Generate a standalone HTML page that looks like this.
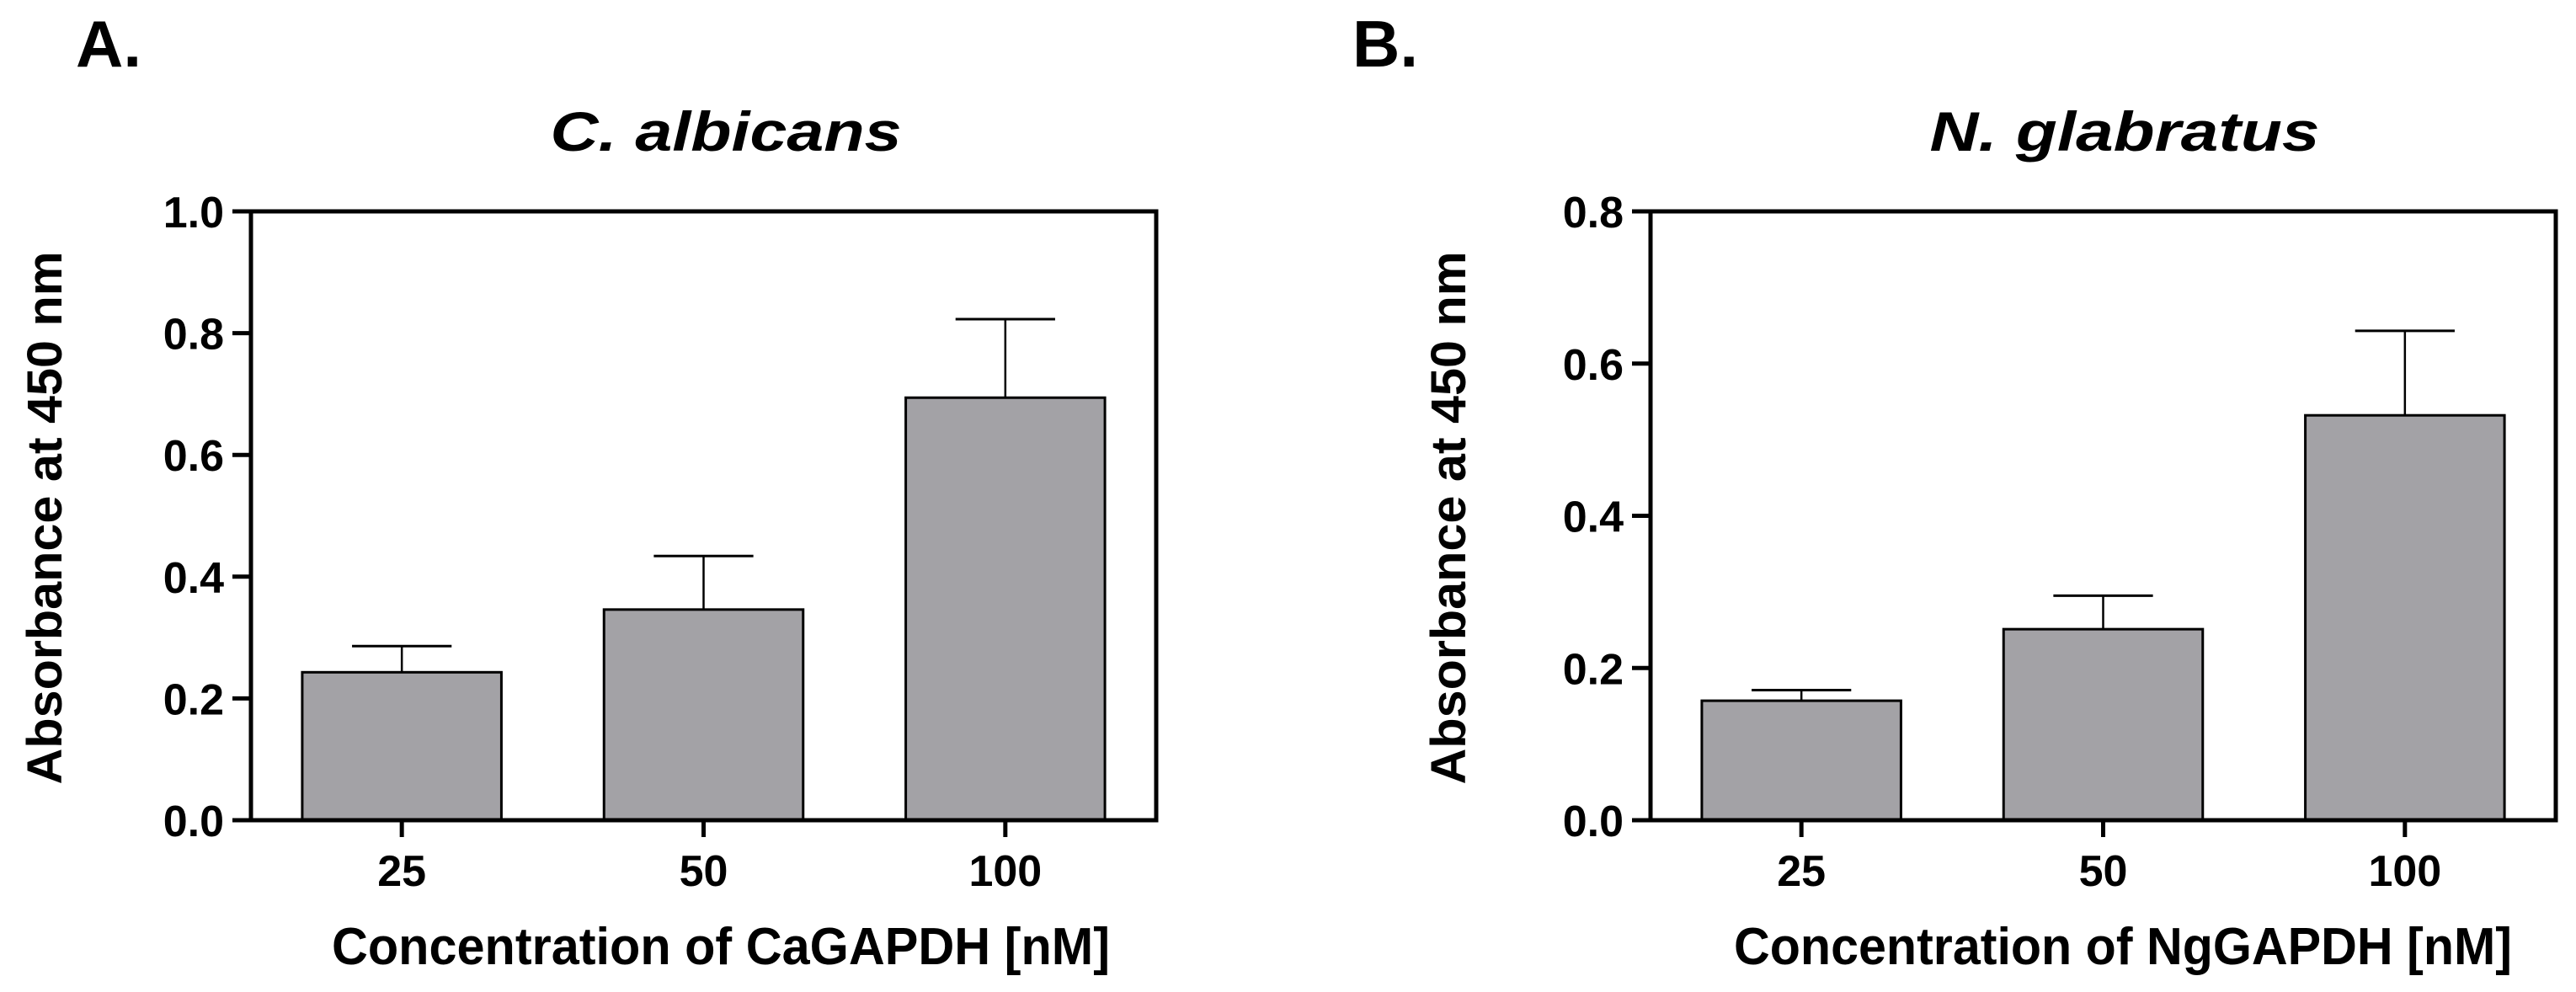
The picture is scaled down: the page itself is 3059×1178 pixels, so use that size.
<!DOCTYPE html>
<html><head><meta charset="utf-8"><style>
body{margin:0;background:#fff;}
svg{display:block;font-family:"Liberation Sans",sans-serif;}
.t{font-weight:bold;}
</style></head><body>
<svg id="fig" width="3059" height="1178" viewBox="0 0 3059 1178"></svg>
<script>
const categories = ["25","50","100"];
const valuesA = [0.243, 0.346, 0.694];
const errorsA = [0.043, 0.088, 0.129];
const ticksA = [0.0, 0.2, 0.4, 0.6, 0.8, 1.0];
const valuesB = [0.157, 0.251, 0.532];
const errorsB = [0.014, 0.044, 0.111];
const ticksB = [0.0, 0.2, 0.4, 0.6, 0.8];

const NS = "http://www.w3.org/2000/svg";
const svg = document.getElementById("fig");
function el(tag, attrs, parent, text){
  const e = document.createElementNS(NS, tag);
  for (const k in attrs) e.setAttribute(k, attrs[k]);
  if (text !== undefined) e.textContent = text;
  (parent || svg).appendChild(e);
  return e;
}
function panel(cfg){
  const g = el("g", {});
  
  
  const x0 = cfg.x0, x1 = cfg.x1, yTop = 251, yBot = 974;
  const ymax = cfg.ticks[cfg.ticks.length-1];
  const y = v => yBot - v / ymax * (yBot - yTop);
  const slot = (x1 - x0) / 3;
  const xc = i => x0 + slot * (i + 0.5);
  const bw = slot * 0.66;
  cfg.values.forEach((v, i) => {
    const b = el("rect", {x: xc(i) - bw/2, y: y(v), width: bw, height: yBot - y(v), fill: "#a3a2a6", stroke: "#000", "stroke-width": 3}, g);
    
    
    const top = y(v + cfg.errors[i]);
    const e1 = el("line", {x1: xc(i), x2: xc(i), y1: y(v), y2: top, stroke: "#000", "stroke-width": 2.5}, g);
    
    
    const e2 = el("line", {x1: xc(i) - bw*0.25, x2: xc(i) + bw*0.25, y1: top, y2: top, stroke: "#000", "stroke-width": 3}, g);
    
    
    const tk = el("line", {x1: xc(i), x2: xc(i), y1: yBot, y2: yBot + 20, stroke: "#000", "stroke-width": 5}, g);
    
    
    const tl = el("text", {x: xc(i), y: yBot + 78, "text-anchor": "middle", "font-size": 52, class: "t"}, g, categories[i]);
    
    
  });
  const fr = el("rect", {x: x0, y: yTop, width: x1 - x0, height: yBot - yTop, fill: "none", stroke: "#000", "stroke-width": 5}, g);
  
  
  cfg.ticks.forEach(t => {
    const tk = el("line", {x1: x0 - 22, x2: x0, y1: y(t), y2: y(t), stroke: "#000", "stroke-width": 5}, g);
    
    
    const tl = el("text", {x: x0 - 32, y: y(t) + 19, "text-anchor": "end", "font-size": 52, class: "t"}, g, t.toFixed(1));
    
    
  });
  const yt = el("text", {x: 0, y: 0, transform: `translate(${cfg.ytx},615) rotate(-90)`, "text-anchor": "middle", "font-size": 58, textLength: 633, lengthAdjust: "spacingAndGlyphs", class: "t"}, g, "Absorbance at 450 nm");
  
  
  const xt = el("text", {x: cfg.xtc, y: 1145, "text-anchor": "middle", "font-size": 62, textLength: 924, lengthAdjust: "spacingAndGlyphs", class: "t"}, g, cfg.xtitle);
  
  
  const ti = el("text", {x: cfg.tc, y: 179, "text-anchor": "middle", "font-size": 66, "font-style": "italic", textLength: cfg.tl, lengthAdjust: "spacingAndGlyphs", class: "t"}, g, cfg.title);
  
  
  const lb = el("text", {x: cfg.lx, y: 79, "font-size": 78, class: "t"}, g, cfg.label);
  
  
}
panel({name: "panel-a", x0: 298, x1: 1373, ticks: ticksA, values: valuesA, errors: errorsA, ytx: 73, xtc: 856, tc: 862, tl: 417, xtitle: "Concentration of CaGAPDH [nM]", title: "C. albicans", label: "A.", lx: 90});
panel({name: "panel-b", x0: 1960, x1: 3035, ticks: ticksB, values: valuesB, errors: errorsB, ytx: 1740, xtc: 2521, tc: 2523, tl: 463, xtitle: "Concentration of NgGAPDH [nM]", title: "N. glabratus", label: "B.", lx: 1606});
</script>
</body></html>
